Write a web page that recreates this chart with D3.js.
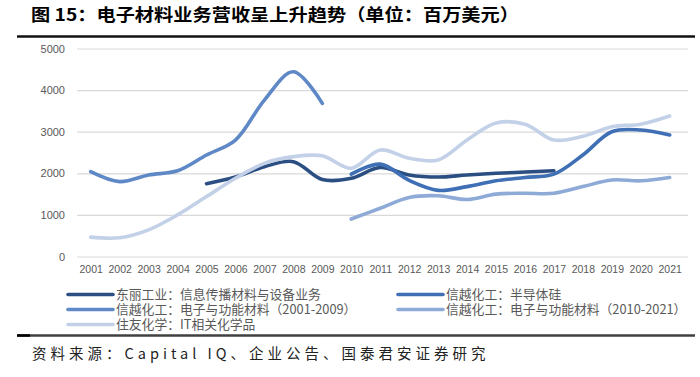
<!DOCTYPE html>
<html><head><meta charset="utf-8">
<script src="https://cdn.jsdelivr.net/npm/d3@7"></script>
<style>
html,body{margin:0;padding:0;background:#fff;}
svg{display:block;}
</style></head>
<body>
<svg id="c" width="700" height="377"></svg>
<script>
const years = ["2001","2002","2003","2004","2005","2006","2007","2008","2009","2010","2011","2012","2013","2014","2015","2016","2017","2018","2019","2020","2021"];
const yTicks = [0,1000,2000,3000,4000,5000];
const toray   = [null,null,null,null,1750,1910,2160,2280,1850,1880,2140,1960,1910,1960,2000,2030,2060,null,null,null,null];
const semiSi  = [null,null,null,null,null,null,null,null,null,1980,2220,1830,1590,1680,1820,1900,1980,2440,3000,3040,2920];
const efm0109 = [2040,1800,1960,2060,2440,2800,3760,4440,3680,null,null,null,null,null,null,null,null,null,null,null,null];
const efm1021 = [null,null,null,null,null,null,null,null,null,900,1160,1420,1460,1370,1500,1520,1520,1680,1840,1820,1900];
const sumitomo= [465,450,640,1000,1440,1880,2240,2400,2420,2120,2560,2360,2320,2800,3210,3180,2800,2890,3120,3180,3376];
const seriesNames = ["东丽工业：信息传播材料与设备业务","信越化工：半导体硅","信越化工：电子与功能材料（2001-2009）","信越化工：电子与功能材料（2010-2021）","住友化学：IT相关化学品"];
const title = "图 15：电子材料业务营收呈上升趋势（单位：百万美元）";
const source = "资料来源：Capital IQ、企业公告、国泰君安证券研究";

const colors = ["#2b4f83","#3f6fb5","#5f88c6","#8eaad6","#c3d1e8"];
const data = [toray, semiSi, efm0109, efm1021, sumitomo];

const svg = d3.select("#c");
const cjk = "'Noto Sans CJK SC','Noto Sans',sans-serif";

// title
svg.append("text").attr("x",31).attr("y",21).attr("font-family",cjk).attr("font-weight","bold")
  .attr("font-size",17).attr("fill","#000").attr("textLength",488).attr("lengthAdjust","spacingAndGlyphs").text(title);
svg.append("line").attr("x1",17).attr("x2",695).attr("y1",36.5).attr("y2",36.5).attr("stroke","#111").attr("stroke-width",2.5);

const x = d3.scalePoint().domain(years).range([90.7,669.7]);
const y = d3.scaleLinear().domain([0,5000]).range([256.5,48.5]);

const gy = svg.append("g").attr("transform","translate(77,0)")
  .call(d3.axisLeft(y).tickValues(yTicks).tickFormat(d3.format("d")).tickSize(-611).tickPadding(12));
gy.select(".domain").remove();
gy.selectAll(".tick line").attr("stroke","#d9d9d9").attr("stroke-width",1.2);
gy.selectAll(".tick text").attr("font-family","'Liberation Sans',Arial,sans-serif").attr("font-size",11).attr("fill","#595959");

const gx = svg.append("g").attr("transform","translate(0,256.5)")
  .call(d3.axisBottom(x).tickSize(0).tickPadding(9));
gx.select(".domain").remove();
gx.selectAll(".tick text").attr("font-family","'Liberation Sans',Arial,sans-serif").attr("font-size",10.5).attr("fill","#595959");

const line = d3.line().defined(d=>d.v!=null).x(d=>x(d.k)).y(d=>y(d.v)).curve(d3.curveCatmullRom.alpha(0.5));
data.forEach((arr,i)=>{
  const pts = years.map((k,j)=>({k, v: arr[j]}));
  svg.append("path").attr("d",line(pts)).attr("fill","none").attr("stroke",colors[i])
    .attr("stroke-width",3.6).attr("stroke-linecap","round").attr("stroke-linejoin","round");
});

// legend
const legPos = [[68,294.5],[398,294.5],[68,309.5],[398,309.5],[68,324.5]];
seriesNames.forEach((n,i)=>{
  const [lx,ly] = legPos[i];
  svg.append("line").attr("x1",lx).attr("x2",lx+45).attr("y1",ly).attr("y2",ly)
    .attr("stroke",colors[i]).attr("stroke-width",3.6).attr("stroke-linecap","round");
  svg.append("text").attr("x",lx+48).attr("y",ly+4.4).attr("font-family",cjk).attr("font-size",12.8)
    .attr("fill","#595959").text(n);
});

// bottom rule and source
svg.append("line").attr("x1",17).attr("x2",695).attr("y1",335.5).attr("y2",335.5).attr("stroke","#404040").attr("stroke-width",2.5);
svg.append("line").attr("x1",17).attr("x2",30).attr("y1",335.5).attr("y2",335.5).attr("stroke","#000").attr("stroke-width",2.5);
svg.append("text").attr("x",32).attr("y",359).attr("font-family",cjk).attr("font-size",14.5)
  .attr("fill","#222").attr("letter-spacing",4).text(source);
</script>
</body></html>
